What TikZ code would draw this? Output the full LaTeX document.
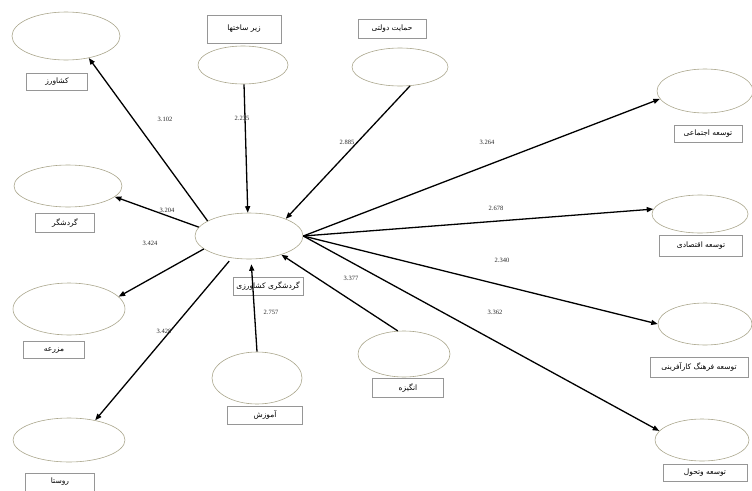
\documentclass[tikz,border=0pt]{standalone}
\usepackage{fontspec}
\setmainfont{Liberation Serif}
\newfontfamily\farsifont[Script=Arabic]{DejaVu Sans}
\TeXXeTstate=1
\usetikzlibrary{shapes.geometric,arrows.meta}
\definecolor{ovalline}{RGB}{170,166,140}
\definecolor{boxline}{RGB}{150,150,150}
\newcommand{\fatext}[1]{{\farsifont\beginR #1\endR}}
\tikzset{
  oval/.style={ellipse, draw=ovalline, line width=0.6pt, inner sep=0pt},
  namebox/.style={rectangle, draw=boxline, line width=0.5pt, inner sep=0pt, font=\fontsize{7.5}{8}\selectfont},
  coef/.style={inner sep=1pt, text=black!85, font=\fontsize{6.5}{7}\selectfont},
  link/.style={draw=black, line width=1.3pt, -{Triangle[length=6.5pt,width=5pt]}}
}
\begin{document}
\begin{tikzpicture}[x=1pt,y=-1pt]
    \useasboundingbox (0,0) rectangle (752,490);
        \node[oval, minimum width=108pt, minimum height=48pt](farmer) at (66,36) {};
        \node[oval, minimum width=90pt, minimum height=38pt](infra) at (243,65) {};
        \node[oval, minimum width=96pt, minimum height=38pt](govt) at (400,67) {};
        \node[oval, minimum width=108pt, minimum height=42pt](tourist) at (68,186) {};
        \node[oval, minimum width=108pt, minimum height=46pt](agri) at (249,236) {};
        \node[oval, minimum width=112pt, minimum height=52pt](farm) at (69,309) {};
        \node[oval, minimum width=112pt, minimum height=44pt](village) at (69,440) {};
        \node[oval, minimum width=90pt, minimum height=52pt](edu) at (257,378) {};
        \node[oval, minimum width=92pt, minimum height=46pt](motive) at (404,354) {};
        \node[oval, minimum width=96pt, minimum height=44pt](social) at (705,91) {};
        \node[oval, minimum width=96pt, minimum height=38pt](econ) at (700,214) {};
        \node[oval, minimum width=94pt, minimum height=42pt](entre) at (705,324) {};
        \node[oval, minimum width=94pt, minimum height=42pt](devt) at (702,440) {};

        \node[namebox, minimum width=61pt, minimum height=17pt](farmerbox) at (57,82) {\fatext{کشاورز}};
        \node[namebox, minimum width=74pt, minimum height=28pt](infrabox) at (244,29) {\fatext{زیر ساختها}};
        \node[namebox, minimum width=68pt, minimum height=19pt](govtbox) at (392,29) {\fatext{حمایت دولتی}};
        \node[namebox, minimum width=59pt, minimum height=19pt](touristbox) at (65,223) {\fatext{گردشگر}};
        \node[namebox, minimum width=70pt, minimum height=18pt](agribox) at (268,286) {\fatext{گردشگری کشاورزی}};
        \node[namebox, minimum width=61pt, minimum height=17pt](farmbox) at (54,350) {\fatext{مزرعه}};
        \node[namebox, minimum width=69pt, minimum height=18pt](villagebox) at (60,482) {\fatext{روستا}};
        \node[namebox, minimum width=75pt, minimum height=18pt](edubox) at (265,415) {\fatext{آموزش}};
        \node[namebox, minimum width=71pt, minimum height=19pt](motivebox) at (408,388) {\fatext{انگیزه}};
        \node[namebox, minimum width=68pt, minimum height=17pt](socialbox) at (708,134) {\fatext{توسعه اجتماعی}};
        \node[namebox, minimum width=83pt, minimum height=21pt](econbox) at (701,246) {\fatext{توسعه اقتصادی}};
        \node[namebox, minimum width=98pt, minimum height=20pt](entrebox) at (699,367) {\fatext{توسعه فرهنگ کارآفرینی}};
        \node[namebox, minimum width=84pt, minimum height=17pt](devtbox) at (705,473) {\fatext{توسعه وتحول}};

        \draw[link](agri.160)--(farmer.-44);
        \draw[link](infra.-87)--(agri.93);
        \draw[link](govt.-62)--(agri.25);
        \draw[link](agri.170)--(tourist.-13);
        \draw[link](agri.196)--(farm.14);
        \draw[link, shorten <=4pt](agri.-128)--(village.37);
        \draw[link, shorten >=5pt](edu.north)--(agri.-85);
        \draw[link](motive.105)--(agri.-30);
        \draw[link](agri.east)--(social.190);
        \draw[link](agri.east)--(econ.174);
        \draw[link](agri.east)--(entre.west);
        \draw[link](agri.east)--(devt.168);

        \node[coef](c1) at (165,119) {3.102};
        \node[coef](c2) at (242,118) {2.235};
        \node[coef](c3) at (347,142) {2.885};
        \node[coef](c4) at (487,142) {3.264};
        \node[coef](c5) at (496,208) {2.678};
        \node[coef](c6) at (502,260) {2.340};
        \node[coef](c7) at (495,312) {3.362};
        \node[coef](c8) at (351,278) {3.377};
        \node[coef](c9) at (271,312) {2.757};
        \node[coef](c10) at (164,331) {3.428};
        \node[coef](c11) at (167,210) {3.204};
        \node[coef](c12) at (150,243) {3.424};
    \end{tikzpicture}
\end{document}
